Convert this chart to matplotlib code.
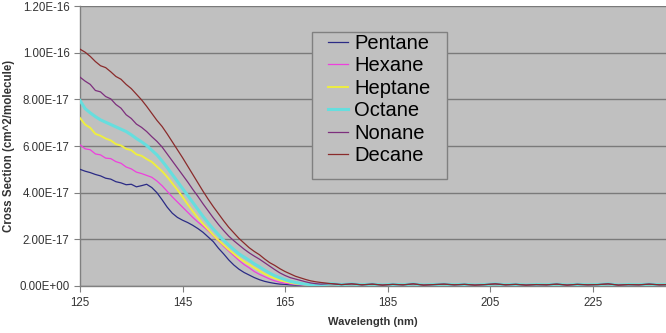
import numpy as np
import matplotlib.pyplot as plt
from matplotlib.patches import Rectangle

plt.rcParams['font.family'] = ['Liberation Sans', 'DejaVu Sans']

# wavelength grid (nm): 1 nm steps through the absorption edge, 2 nm steps in the flat tail
wl_main = list(range(125, 173))
wl_tail = list(range(174, 241, 2))

# cross sections in units of 1e-17 cm^2/molecule
pentane = [5.00, 4.92, 4.86, 4.78, 4.72, 4.62, 4.58, 4.47, 4.42, 4.34,
           4.36, 4.25, 4.30, 4.36, 4.22, 4.00, 3.70, 3.38, 3.12, 2.94,
           2.82, 2.72, 2.60, 2.46, 2.30, 2.10, 1.90, 1.62, 1.38, 1.12,
           0.90, 0.72, 0.58, 0.47, 0.36, 0.27, 0.20, 0.15, 0.11, 0.08,
           0.07, 0.05, 0.04, 0.04, 0.03, 0.03, 0.02, 0.02]
hexane = [6.05, 5.88, 5.84, 5.66, 5.62, 5.48, 5.46, 5.33, 5.26, 5.10,
          5.02, 4.88, 4.82, 4.74, 4.66, 4.50, 4.30, 4.06, 3.82, 3.60,
          3.38, 3.16, 2.94, 2.74, 2.56, 2.36, 2.14, 1.92, 1.70, 1.50,
          1.30, 1.10, 0.92, 0.78, 0.62, 0.50, 0.40, 0.30, 0.22, 0.16,
          0.12, 0.09, 0.07, 0.05, 0.04, 0.03, 0.03, 0.02]
heptane = [7.20, 6.92, 6.78, 6.52, 6.44, 6.32, 6.24, 6.08, 6.02, 5.88,
           5.82, 5.64, 5.58, 5.44, 5.32, 5.12, 4.92, 4.68, 4.40, 4.12,
           3.82, 3.50, 3.20, 2.92, 2.66, 2.42, 2.18, 1.96, 1.76, 1.56,
           1.38, 1.20, 1.05, 0.92, 0.78, 0.65, 0.52, 0.42, 0.33, 0.25,
           0.19, 0.14, 0.10, 0.08, 0.06, 0.05, 0.04, 0.03]
octane = [7.95, 7.60, 7.42, 7.26, 7.12, 7.02, 6.92, 6.82, 6.72, 6.62,
          6.48, 6.32, 6.18, 6.02, 5.82, 5.62, 5.36, 5.08, 4.78, 4.48,
          4.18, 3.88, 3.58, 3.28, 2.98, 2.70, 2.44, 2.20, 1.96, 1.76,
          1.56, 1.38, 1.24, 1.10, 0.95, 0.82, 0.68, 0.55, 0.44, 0.35,
          0.27, 0.20, 0.15, 0.11, 0.08, 0.06, 0.05, 0.04]
nonane = [8.95, 8.78, 8.64, 8.38, 8.32, 8.12, 8.02, 7.78, 7.62, 7.34,
          7.18, 6.94, 6.80, 6.62, 6.40, 6.20, 5.96, 5.66, 5.36, 5.06,
          4.76, 4.46, 4.14, 3.84, 3.52, 3.22, 2.92, 2.64, 2.38, 2.14,
          1.94, 1.76, 1.58, 1.42, 1.28, 1.15, 1.00, 0.85, 0.70, 0.56,
          0.45, 0.36, 0.30, 0.24, 0.18, 0.13, 0.10, 0.08]
decane = [10.15, 10.02, 9.84, 9.62, 9.44, 9.36, 9.18, 8.98, 8.86, 8.64,
          8.46, 8.22, 7.98, 7.70, 7.40, 7.10, 6.84, 6.52, 6.18, 5.84,
          5.50, 5.14, 4.78, 4.42, 4.06, 3.72, 3.40, 3.10, 2.80, 2.52,
          2.28, 2.04, 1.84, 1.64, 1.48, 1.34, 1.16, 1.00, 0.88, 0.74,
          0.62, 0.52, 0.42, 0.35, 0.28, 0.22, 0.18, 0.15]

# near-zero baseline beyond the edge
tail = [0.10, 0.06, 0.09, 0.05, 0.08, 0.04, 0.07, 0.05, 0.09, 0.04,
        0.06, 0.08, 0.05, 0.07, 0.04, 0.06, 0.09, 0.05, 0.07, 0.04,
        0.06, 0.05, 0.08, 0.04, 0.07, 0.05, 0.06, 0.09, 0.04, 0.06,
        0.05, 0.08, 0.05, 0.06]

names = ["Pentane", "Hexane", "Heptane", "Octane", "Nonane", "Decane"]
series = [pentane, hexane, heptane, octane, nonane, decane]
colors = ["#2b2b85", "#ee40dd", "#eeee40", "#66dede", "#7d2f7d", "#8a2b2b"]
widths = [0.9, 0.9, 1.4, 2.2, 0.9, 0.9]

x_ticks = [125, 145, 165, 185, 205, 225]
y_ticks = [0, 2e-17, 4e-17, 6e-17, 8e-17, 1e-16, 1.2e-16]

fig = plt.figure(figsize=(6.66, 3.33), dpi=100)
ax = fig.add_axes([80 / 666, 47 / 333, 586 / 666, 280 / 333])
ax.set_facecolor("#c0c0c0")

wl = np.array(wl_main + wl_tail)
handles = []
for name, vals, c, lw in zip(names, series, colors, widths):
    y = np.array(vals + tail) * 1e-17
    h, = ax.plot(wl, y, color=c, lw=lw, label=name, zorder=3)
    handles.append(h)

ax.set_xlim(125, 239.3)
ax.set_ylim(0, 1.2e-16)
ax.set_xticks(x_ticks)
ax.set_yticks(y_ticks)
ax.set_yticklabels([f"{v:.2E}" for v in y_ticks])
ax.yaxis.grid(True, color="#7a7a7a", lw=1.0, zorder=1)
ax.set_axisbelow(True)

for side in ["top", "right"]:
    ax.spines[side].set_visible(False)
for side in ["left", "bottom"]:
    ax.spines[side].set_color("#808080")
    ax.spines[side].set_linewidth(1.0)
ax.tick_params(axis="both", direction="out", length=4, color="#808080",
               labelsize=8.3, labelcolor="#333333")
ax.tick_params(axis="x", pad=4)

ax.set_xlabel("Wavelength (nm)", fontsize=8, fontweight="bold", color="#333333", labelpad=6)
ax.set_ylabel("Cross Section (cm^2/molecule)", fontsize=8.3, fontweight="bold", color="#333333", labelpad=3)

# legend box drawn separately so the padding can be set per side
to_ax = lambda px, py: ((px - 80) / 586, (286 - py) / 280)
bx0, by0 = to_ax(312, 179)
bx1, by1 = to_ax(447, 32)
ax.add_patch(Rectangle((bx0, by0), bx1 - bx0, by1 - by0, transform=ax.transAxes,
                       facecolor="#c0c0c0", edgecolor="#808080", lw=1.0, zorder=4))
lx, ly = to_ax(328, 34)
ax.legend(handles=handles, loc="upper left", bbox_to_anchor=(lx, ly), frameon=False,
          fontsize=14.5, handlelength=1.0, handletextpad=0.3, labelspacing=0.17,
          borderpad=0.0, borderaxespad=0.0)

fig.savefig("out.png", dpi=100)
